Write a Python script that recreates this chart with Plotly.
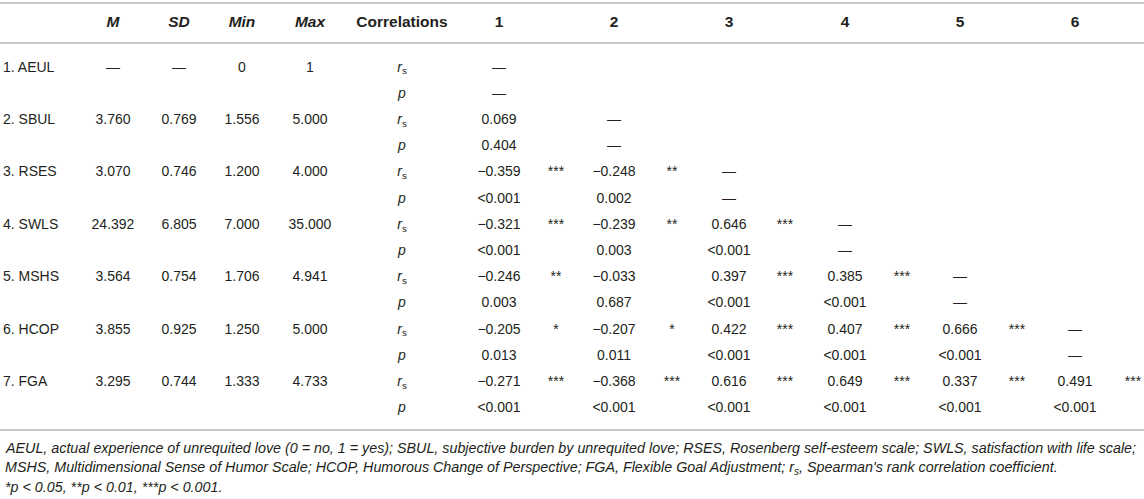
import plotly.graph_objects as go

# Descriptive statistics and Spearman correlations table

variables = ["1. AEUL", "2. SBUL", "3. RSES", "4. SWLS", "5. MSHS", "6. HCOP", "7. FGA"]
means = [None, 3.760, 3.070, 24.392, 3.564, 3.855, 3.295]
sds = [None, 0.769, 0.746, 6.805, 0.754, 0.925, 0.744]
mins = [0, 1.556, 1.200, 7.000, 1.706, 1.250, 1.333]
maxs = [1, 5.000, 4.000, 35.000, 4.941, 5.000, 4.733]

# lower triangle, one list per variable (columns 1..6)
r_values = [
    [],
    [0.069],
    [-0.359, -0.248],
    [-0.321, -0.239, 0.646],
    [-0.246, -0.033, 0.397, 0.385],
    [-0.205, -0.207, 0.422, 0.407, 0.666],
    [-0.271, -0.368, 0.616, 0.649, 0.337, 0.491],
]
p_values = [
    [],
    ["0.404"],
    ["<0.001", "0.002"],
    ["<0.001", "0.003", "<0.001"],
    ["0.003", "0.687", "<0.001", "<0.001"],
    ["0.013", "0.011", "<0.001", "<0.001", "<0.001"],
    ["<0.001", "<0.001", "<0.001", "<0.001", "<0.001", "<0.001"],
]

stat_headers = ["M", "SD", "Min", "Max"]
corr_headers = ["1", "2", "3", "4", "5", "6"]

footnotes = [
    "AEUL, actual experience of unrequited love (0 = no, 1 = yes); SBUL, subjective burden by unrequited love; "
    "RSES, Rosenberg self-esteem scale; SWLS, satisfaction with life scale;",
    "MSHS, Multidimensional Sense of Humor Scale; HCOP, Humorous Change of Perspective; "
    "FGA, Flexible Goal Adjustment; r<sub>s</sub>, Spearman's rank correlation coefficient.",
    "*p < 0.05, **p < 0.01, ***p < 0.001.",
]

# layout (pixels)
W, H = 1144, 499
label_x = 3
stat_x = [113, 179, 242, 310]
corr_x = 402
value_x = [499, 614, 729, 845, 960, 1075]
star_x = [556, 672, 785, 902, 1017, 1133]
first_row_px = 68
row_pitch = 26.2
header_px = 23
rule_px = [3, 43, 430]
footnote_px = [448, 468, 487]

text_color = "#231f20"
rule_color = "#c8c8c8"
font_family = "Liberation Sans, Arial, Helvetica, sans-serif"
MINUS = "\u2212"
DASH = "\u2014"


def fmt_stat(v):
    if v is None:
        return DASH
    if isinstance(v, int):
        return str(v)
    return "%.3f" % v


def fmt_r(v):
    s = "%.3f" % abs(v)
    return MINUS + s if v < 0 else s


def fmt_p(s):
    return s.replace("<", "&lt;")


def stars_for(p):
    if p.startswith("<"):
        return "***"
    v = float(p)
    if v < 0.001:
        return "***"
    if v < 0.01:
        return "**"
    if v < 0.05:
        return "*"
    return ""


def text_trace(x, y, text, size=14, position="middle center"):
    return go.Scatter(
        x=x, y=y, text=text, mode="text",
        textposition=position,
        textfont=dict(family=font_family, size=size, color=text_color),
        hoverinfo="skip", showlegend=False, cliponaxis=False,
    )


def main():
    n = len(variables)
    fig = go.Figure()

    # header
    hx = stat_x + [corr_x] + value_x
    htext = ["<b><i>%s</i></b>" % h for h in stat_headers] + ["<b>Correlations</b>"] + \
            ["<b>%s</b>" % h for h in corr_headers]
    header_y = (header_px - first_row_px) / row_pitch
    fig.add_trace(text_trace(hx, [header_y] * len(hx), htext, size=15.5))

    # variable names and descriptive stats on the r_s line of each variable
    rows = [2 * i for i in range(n)]
    fig.add_trace(text_trace([label_x] * n, rows, variables, position="middle right"))
    for j, col in enumerate([means, sds, mins, maxs]):
        fig.add_trace(text_trace([stat_x[j]] * n, rows, [fmt_stat(v) for v in col]))

    # r_s / p labels
    fig.add_trace(text_trace([corr_x] * (2 * n), list(range(2 * n)),
                             ["<i>r</i><sub>s</sub>", "<i>p</i>"] * n))

    # correlation cells
    vx, vy, vt, sx, sy, st = [], [], [], [], [], []
    for i in range(n):
        for j in range(len(corr_headers)):
            if j < i:
                vx += [value_x[j], value_x[j]]
                vy += [2 * i, 2 * i + 1]
                vt += [fmt_r(r_values[i][j]), fmt_p(p_values[i][j])]
                star = stars_for(p_values[i][j])
                if star:
                    sx.append(star_x[j])
                    sy.append(2 * i)
                    st.append(star)
            elif j == i:
                vx += [value_x[j], value_x[j]]
                vy += [2 * i, 2 * i + 1]
                vt += [DASH, DASH]
    fig.add_trace(text_trace(vx, vy, vt))
    fig.add_trace(text_trace(sx, sy, st))

    # horizontal rules
    shapes = []
    for px in rule_px:
        shapes.append(dict(type="line", xref="paper", yref="paper", x0=0, x1=1,
                           y0=1 - px / H, y1=1 - px / H,
                           line=dict(color=rule_color, width=2)))

    annotations = []
    for txt, px in zip(footnotes, footnote_px):
        txt = txt.replace("<", "&lt;").replace("&lt;sub>", "<sub>").replace("&lt;/sub>", "</sub>")
        annotations.append(dict(
            text="<i>" + txt + "</i>",
            xref="paper", yref="paper", x=label_x / W, y=1 - px / H,
            xanchor="left", yanchor="middle", showarrow=False,
            font=dict(family=font_family, size=14.3, color=text_color),
        ))

    y_top = -first_row_px / row_pitch
    y_bottom = y_top + H / row_pitch
    fig.update_layout(
        width=W, height=H,
        margin=dict(l=0, r=0, t=0, b=0, pad=0),
        paper_bgcolor="white", plot_bgcolor="white",
        xaxis=dict(range=[0, W], visible=False, fixedrange=True),
        yaxis=dict(range=[y_bottom, y_top], visible=False, fixedrange=True),
        shapes=shapes,
        annotations=annotations,
    )

    # page body has a default margin, drop it so the figure sits at the corner
    fig.write_html("out.html", config={"displayModeBar": False},
                   post_script="document.body.style.margin='0';")


if __name__ == "__main__":
    main()
